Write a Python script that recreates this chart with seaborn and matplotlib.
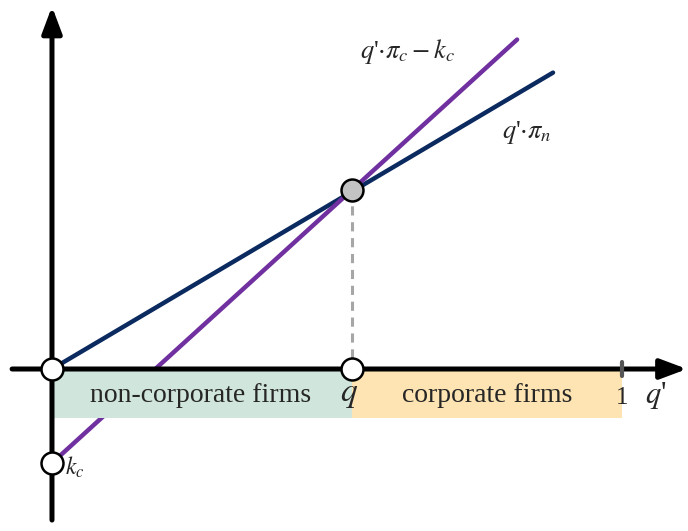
import matplotlib
matplotlib.use("Agg")
import matplotlib.pyplot as plt
import seaborn as sns

# threshold q and fixed cost k_c (in units of q')
q_star = 0.526
k_c = 0.165
cut_y = 0.314

# line end points
pi_n_x = [0.0, 0.879]
pi_n_y = [0.0, 0.52]
pi_c_x = [0.0, 0.816]
pi_c_y = [-0.165, 0.578]

# open markers
open_x = [0.0, q_star, 0.0]
open_y = [0.0, 0.0, -0.165]

sns.set_style("white")
plt.rcParams["mathtext.fontset"] = "stix"
plt.rcParams["font.family"] = ["Liberation Serif", "DejaVu Serif"]

fig = plt.figure(figsize=(6.88, 5.31), dpi=100)
ax = fig.add_axes([0, 0, 1, 1])
ax.set_xlim(-0.0912, 1.1158)
ax.set_ylim(-0.2842, 0.6474)
ax.axis("off")

# shaded regions under the axis (drawn over the lines)
ax.fill_between([0.004, q_star], -0.086, -0.003, color="#d0e5dc", lw=0, zorder=4.5)
ax.fill_between([q_star, 1.0], -0.086, -0.003, color="#fde4b2", lw=0, zorder=4.5)

# axes with arrows
ax.annotate("", xy=(1.114, 0), xytext=(-0.07, 0),
            arrowprops=dict(arrowstyle="-|>,head_length=1.6,head_width=0.6",
                            lw=3.6, color="black", shrinkA=0, shrinkB=0), zorder=5)
ax.annotate("", xy=(0, 0.636), xytext=(0, -0.265),
            arrowprops=dict(arrowstyle="-|>,head_length=1.6,head_width=0.6",
                            lw=3.6, color="black", shrinkA=0, shrinkB=0), zorder=5)
ax.plot([1.0, 1.0], [-0.012, 0.012], color="#555555", lw=3, zorder=5)

# payoff lines
sns.lineplot(x=pi_n_x, y=pi_n_y, ax=ax, color="#0b2a5f", lw=3.2, zorder=4)
sns.lineplot(x=pi_c_x, y=pi_c_y, ax=ax, color="#7030a0", lw=3.2, zorder=4)

ax.plot([q_star, q_star], [0.02, cut_y - 0.015], color="#a6a6a6", lw=2.2,
        ls=(0, (3, 2.2)), zorder=3)

sns.scatterplot(x=open_x, y=open_y, ax=ax, s=250, color="white",
                edgecolor="black", linewidth=1.8, zorder=6, marker="o")
sns.scatterplot(x=[q_star], y=[cut_y], ax=ax, s=250, color="#c3c3c3",
                edgecolor="black", linewidth=1.8, zorder=6, marker="o")

# labels
ax.text(0.261, -0.047, "non-corporate firms", fontsize=20, ha="center", va="center", zorder=7)
ax.text(0.763, -0.047, "corporate firms", fontsize=20, ha="center", va="center", zorder=7)
ax.text(q_star - 0.005, -0.045, "$q$", fontsize=24, ha="center", va="center", zorder=7)
ax.text(1.0, -0.05, "1", fontsize=18, ha="center", va="center", zorder=7)
ax.text(1.06, -0.047, "$q$'", fontsize=22, ha="center", va="center")
ax.text(0.54, 0.557, r"$q$'$\cdot\pi_{c} - k_{c}$", fontsize=19, ha="left", va="center")
ax.text(0.79, 0.415, r"$q$'$\cdot\pi_{n}$", fontsize=19, ha="left", va="center")
ax.text(0.022, -0.172, "$k_{c}$", fontsize=17, ha="left", va="center")

fig.savefig("out.png", dpi=100)
